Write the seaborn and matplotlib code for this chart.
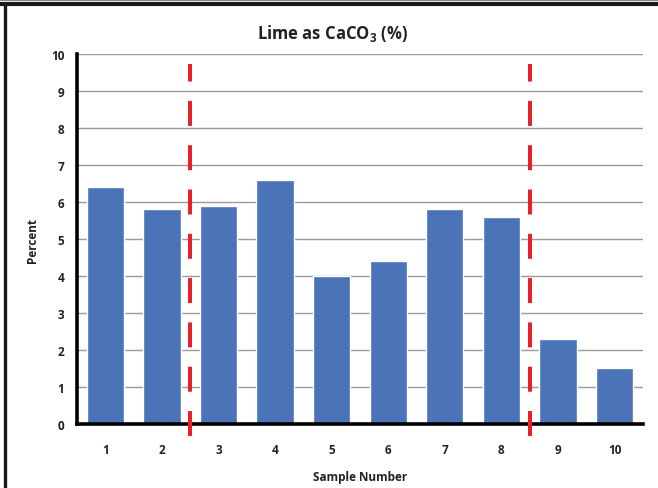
import matplotlib
matplotlib.use("Agg")
import matplotlib.pyplot as plt
from matplotlib.lines import Line2D
import seaborn as sns
import pandas as pd

# chart data
samples = ["1", "2", "3", "4", "5", "6", "7", "8", "9", "10"]
lime_pct = [6.4, 5.8, 5.9, 6.6, 4.0, 4.4, 5.8, 5.6, 2.3, 1.5]
dividers = [2.5, 8.5]  # red dashed lines sit between these sample numbers
y_ticks = [0, 1, 2, 3, 4, 5, 6, 7, 8, 9, 10]

sns.set_style("white")
plt.rcParams["font.family"] = ["Open Sans", "DejaVu Sans"]

df = pd.DataFrame({"sample": samples, "pct": lime_pct})

fig = plt.figure(figsize=(6.58, 4.89), dpi=100)
ax = fig.add_axes([0.117, 0.1309, 0.860, 0.7566])

sns.barplot(data=df, x="sample", y="pct", order=samples, color="#4a73b8",
            saturation=1, width=0.66, ax=ax, zorder=3)

ax.set_ylim(0, 10)
ax.set_xlim(-0.5, len(samples) - 0.5)
ax.set_yticks(y_ticks)
ax.yaxis.grid(True, color="#9a9a9a", lw=1)
ax.set_axisbelow(True)

for s in ["top", "right"]:
    ax.spines[s].set_visible(False)
for s in ["left", "bottom"]:
    ax.spines[s].set_color("black")
    ax.spines[s].set_linewidth(2.6)
    ax.spines[s].set_zorder(5)

ax.tick_params(axis="both", length=0, labelsize=8.5)
ax.tick_params(axis="x", pad=14)
ax.tick_params(axis="y", pad=9)
for lab in ax.get_xticklabels() + ax.get_yticklabels():
    lab.set_fontweight("bold")
    lab.set_color("#222222")

fig.text(0.506, 0.932, "Lime as CaCO$_\\mathregular{3}$ (%)", fontsize=12,
         fontweight="bold", color="#222222", ha="center", va="center")
ax.set_xlabel("Sample Number", fontsize=8.5, fontweight="bold", labelpad=10,
              color="#222222")
ax.set_ylabel("Percent", fontsize=8.5, fontweight="bold", labelpad=9,
              color="#222222")

for d in dividers:
    pos = samples.index(str(int(d - 0.5))) + 0.5
    ax.axvline(pos, ymin=-0.032, ymax=0.973, color="#e8202a", lw=2.9,
               linestyle=(0, (6.2, 4.8)), clip_on=False, zorder=6)

# outer frame of the original figure
fig.add_artist(Line2D([0, 1], [0.998, 0.998], transform=fig.transFigure,
                      color="#888888", lw=0.8))
fig.add_artist(Line2D([0, 1], [0.989, 0.989], transform=fig.transFigure,
                      color="#1a1a1a", lw=3))
fig.add_artist(Line2D([0.0076, 0.0076], [0, 0.99], transform=fig.transFigure,
                      color="#1a1a1a", lw=2.4))

fig.savefig("out.png", dpi=100)
